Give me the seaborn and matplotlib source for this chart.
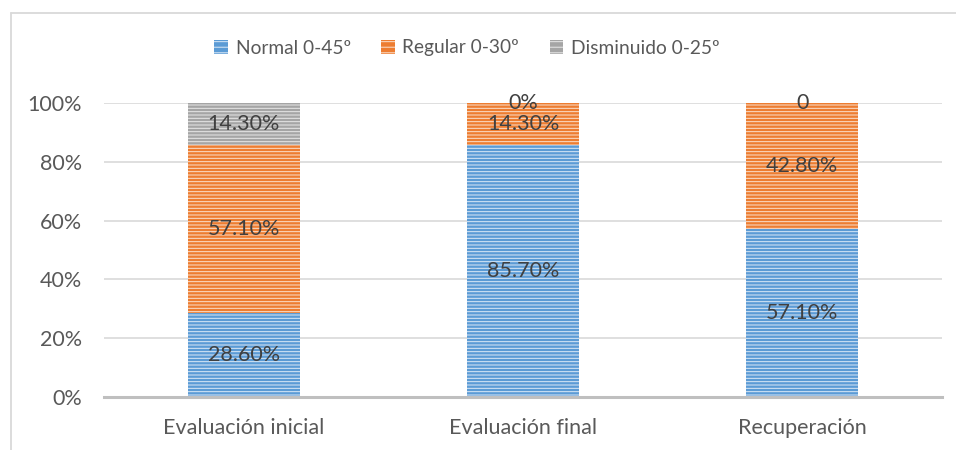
import matplotlib
matplotlib.use("Agg")
import matplotlib.pyplot as plt
import matplotlib.patches as mpatches
from matplotlib.lines import Line2D
import seaborn as sns
import pandas as pd

# Data
categories = ["Evaluación inicial", "Evaluación final", "Recuperación"]
series = ["Normal 0-45º", "Regular 0-30º", "Disminuido 0-25º"]
normal = [28.6, 85.7, 57.1]
regular = [57.1, 14.3, 42.8]
disminuido = [14.3, 0.0, 0.0]
normal_labels = ["28.60%", "85.70%", "57.10%"]
regular_labels = ["57.10%", "14.30%", "42.80%"]
disminuido_labels = ["14.30%", "0%", "0"]
y_ticks = [0, 20, 40, 60, 80, 100]
y_tick_labels = ["0%", "20%", "40%", "60%", "80%", "100%"]

sns.set_theme(style="white")
plt.rcParams["font.family"] = ["Lato", "DejaVu Sans"]
plt.rcParams["hatch.linewidth"] = 0.7

fill_colors = ["#5B9BD5", "#ED7D31", "#A5A5A5"]
stripe_colors = ["#DCE9F6", "#FBE1CF", "#E8E8E8"]
text_gray = "#595959"

df = pd.DataFrame({"categoria": categories, series[0]: normal,
                   series[1]: regular, series[2]: disminuido})

fig = plt.figure(figsize=(9.56, 4.5), dpi=100)
ax = fig.add_axes([104 / 956, 1 - 397 / 450, 838 / 956, 294 / 450])

values = [normal, regular, disminuido]
labels = [normal_labels, regular_labels, disminuido_labels]
bottom = [0.0, 0.0, 0.0]
for name, vals, lab, fc, sc in zip(series, values, labels, fill_colors, stripe_colors):
    sns.barplot(data=df, x="categoria", y=name, color=fc, width=0.4,
                bottom=list(bottom), edgecolor=sc, linewidth=0,
                hatch="-----", saturation=1, ax=ax, zorder=2)
    cont = ax.containers[-1]
    for bar in cont:
        bar.set_facecolor(fc)
        bar.set_edgecolor(sc)
        bar.set_hatch("-----")
        bar.set_linewidth(0)
    ax.bar_label(cont, labels=lab, label_type="center", color="#404040",
                 fontsize=15.5, zorder=5)
    bottom = [b + v for b, v in zip(bottom, vals)]

ax.set_ylim(0, 100)
ax.set_xlim(-0.5, 2.5)
ax.set_yticks(y_ticks)
ax.set_yticklabels(y_tick_labels)
ax.set_xlabel("")
ax.set_ylabel("")
ax.tick_params(axis="both", length=0, labelsize=15.5, labelcolor=text_gray)
ax.tick_params(axis="y", pad=16)
ax.tick_params(axis="x", pad=15)
for y in y_ticks[1:]:
    ax.axhline(y, color="#D9D9D9", linewidth=1.2, zorder=0)
for s in ["top", "right", "left"]:
    ax.spines[s].set_visible(False)
ax.spines["bottom"].set_color("#BFBFBF")
ax.spines["bottom"].set_linewidth(2.2)
ax.spines["bottom"].set_zorder(3)

handles = [mpatches.Patch(facecolor=fc, edgecolor=sc, hatch="---", linewidth=0)
           for fc, sc in zip(fill_colors, stripe_colors)]
leg = fig.legend(handles, series, loc="center", bbox_to_anchor=(467 / 956, 1 - 48 / 450),
                 ncol=3, frameon=False, fontsize=13.8, handlelength=0.7,
                 handleheight=0.7, handletextpad=0.4, columnspacing=1.6)
for t in leg.get_texts():
    t.set_color(text_gray)

# chart frame
fig.add_artist(Line2D([11 / 956, 1.0], [1 - 13 / 450, 1 - 13 / 450],
                      color="#D9D9D9", linewidth=1.3, transform=fig.transFigure))
fig.add_artist(Line2D([11 / 956, 11 / 956], [0.0, 1 - 13 / 450],
                      color="#D9D9D9", linewidth=1.3, transform=fig.transFigure))

fig.savefig("out.png", dpi=100)
